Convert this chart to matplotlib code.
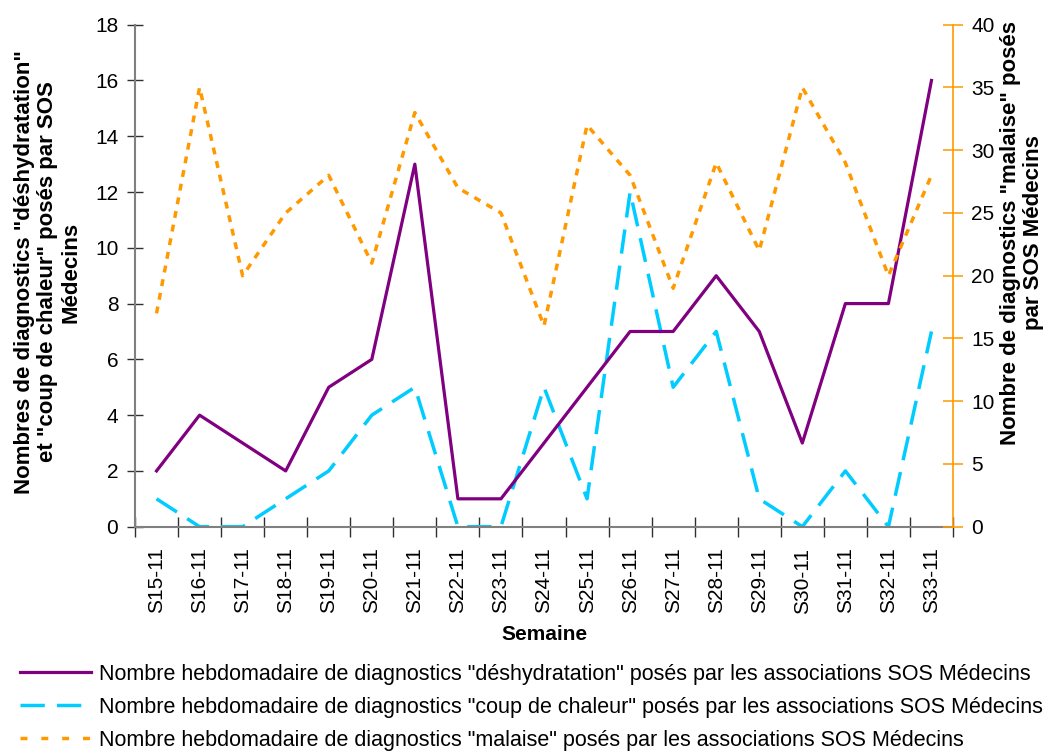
import numpy as np
import matplotlib.pyplot as plt
from matplotlib.lines import Line2D

plt.rcParams['font.family'] = ['Liberation Sans', 'DejaVu Sans']

semaines = ["S15-11", "S16-11", "S17-11", "S18-11", "S19-11", "S20-11", "S21-11",
            "S22-11", "S23-11", "S24-11", "S25-11", "S26-11", "S27-11", "S28-11",
            "S29-11", "S30-11", "S31-11", "S32-11", "S33-11"]
deshydratation = [2, 4, 3, 2, 5, 6, 13, 1, 1, 3, 5, 7, 7, 9, 7, 3, 8, 8, 16]
coup_de_chaleur = [1, 0, 0, 1, 2, 4, 5, 0, 0, 5, 1, 12, 5, 7, 1, 0, 2, 0, 7]
malaise = [17, 35, 20, 25, 28, 21, 33, 27, 25, 16, 32, 28, 19, 29, 22, 35, 29, 20, 28]

labels = [
    'Nombre hebdomadaire de diagnostics "déshydratation" posés par les associations SOS Médecins',
    'Nombre hebdomadaire de diagnostics "coup de chaleur" posés par les associations SOS Médecins',
    'Nombre hebdomadaire de diagnostics "malaise" posés par les associations SOS Médecins',
]

purple = '#800080'
cyan = '#00CCFF'
orange = '#FF9900'
gray = '#808080'
tick_fs = 15
lab_fs = 16

fig = plt.figure(figsize=(10.48, 7.56), dpi=100)
ax = fig.add_axes([135 / 1048, 1 - 526.7 / 756, 818 / 1048, 502 / 756])
ax2 = ax.twinx()

x = np.arange(len(semaines))
ax.plot(x, deshydratation, color=purple, lw=2.3, zorder=3)
ax.plot(x, coup_de_chaleur, color=cyan, lw=2.5, dashes=(7, 3.5))
ax2.plot(x, malaise, color=orange, lw=2.5, dashes=(2, 2))

ax.set_xlim(-0.5, len(semaines) - 0.5)
ax.set_ylim(0, 18)
ax.set_yticks(range(0, 19, 2))
ax2.set_ylim(0, 40)
ax2.set_yticks(range(0, 41, 5))

ax.set_xticks(x)
ax.set_xticklabels(semaines, rotation=90, fontsize=tick_fs)
ax.tick_params(axis='x', which='major', length=0, pad=15)
ax.set_xticks(np.arange(-0.5, len(semaines), 1), minor=True)
ax.tick_params(axis='x', which='minor', direction='inout', length=14, color='#303030', width=1.0)
ax.tick_params(axis='y', direction='inout', length=12, color='#303030', width=1.0,
               labelsize=tick_fs, pad=6)
ax2.tick_params(axis='y', direction='inout', length=14, color=orange, width=1.1,
                labelsize=tick_fs, pad=6)

for a in (ax, ax2):
    a.spines['top'].set_visible(False)
    a.patch.set_visible(False)
ax.spines['right'].set_visible(False)
ax.spines['left'].set_color(gray)
ax.spines['bottom'].set_color(gray)
ax.spines['left'].set_linewidth(1.5)
ax.spines['bottom'].set_linewidth(1.5)
ax2.spines['left'].set_visible(False)
ax2.spines['bottom'].set_visible(False)
ax2.spines['right'].set_color(orange)
ax2.spines['right'].set_linewidth(1.2)

fig.text(544 / 1048, 1 - 634 / 756, 'Semaine', ha='center', va='center',
         fontsize=tick_fs, fontweight='bold')
fig.text(48 / 1048, 1 - 272 / 756,
         'Nombres de diagnostics "déshydratation"\net "coup de chaleur" posés par SOS\nMédecins',
         rotation=90, ha='center', va='center', fontsize=lab_fs, fontweight='bold',
         multialignment='center', linespacing=1.15)
fig.text(1022 / 1048, 1 - 233 / 756,
         'Nombre de diagnostics "malaise" posés\npar SOS Médecins',
         rotation=90, ha='center', va='center', fontsize=lab_fs, fontweight='bold',
         multialignment='center', linespacing=1.15)

handles = [
    Line2D([], [], color=purple, lw=2.3),
    Line2D([], [], color=cyan, lw=2.5, dashes=(7, 3.5)),
    Line2D([], [], color=orange, lw=2.5, dashes=(2, 4)),
]
fig.legend(handles, labels, loc='upper left', bbox_to_anchor=(20 / 1048, 1 - 664 / 756),
           frameon=False, fontsize=15.5, handlelength=3.3, handletextpad=0.35,
           labelspacing=0.55, borderpad=0, borderaxespad=0)

fig.savefig('out.png', dpi=100)
